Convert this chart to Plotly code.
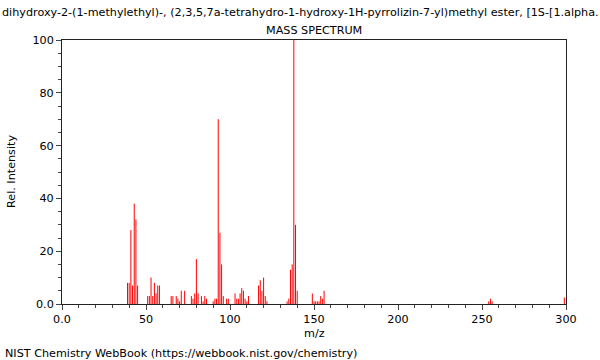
import plotly.graph_objects as go

mz = [39, 40, 41, 42, 43, 44, 45,
      51, 52, 53, 54, 55, 56, 57, 58,
      65, 66, 68, 69, 70, 71, 73,
      77, 78, 79, 80, 81, 83, 84, 85, 86,
      90, 91, 92, 93, 94, 95, 96, 98, 99,
      103, 104, 105, 106, 107, 108, 109, 110, 111,
      117, 118, 119, 120, 121, 122,
      134, 135, 136, 137, 138, 139, 140,
      149, 150, 151, 152, 153, 154, 155, 156,
      254, 255, 256,
      299]
intensity = [8, 8, 28, 7, 38, 32, 7,
             3, 3, 10, 3, 8, 4, 7, 7,
             3, 3, 3, 2, 1, 5, 5,
             3, 2, 4, 17, 4, 3, 1, 3, 2,
             1, 2, 2, 70, 27, 15, 3, 2, 2,
             4, 2, 2, 4, 6, 5, 2, 1, 3,
             7, 9, 5, 10, 3, 1,
             1, 2, 13, 15, 100, 30, 5,
             4, 1, 1, 1, 1, 3, 2, 5,
             1, 2, 1,
             2.5]

x_ticks = [0, 50, 100, 150, 200, 250, 300]
x_ticktext = ["0.0", "50", "100", "150", "200", "250", "300"]
y_ticks = [0, 20, 40, 60, 80, 100]
y_ticktext = ["0.0", "20", "40", "60", "80", "100"]

title_text = ("dihydroxy-2-(1-methylethyl)-, (2,3,5,7a-tetrahydro-1-hydroxy-1H-"
              "pyrrolizin-7-yl)methyl ester, [1S-[1.alpha.")

FONT = "DejaVu Sans"
FS = 11.2

# stick spectrum: one vertical segment per peak
sx, sy = [], []
for m, v in zip(mz, intensity):
    sx += [m, m, None]
    sy += [0, v, None]

fig = go.Figure()
fig.add_trace(go.Scatter(x=sx, y=sy, mode="lines",
                         line=dict(color="#ff0000", width=1),
                         hoverinfo="skip"))

fig.update_layout(
    width=600, height=360,
    margin=dict(l=62, r=34, t=40, b=56),
    paper_bgcolor="white", plot_bgcolor="white",
    showlegend=False,
    font=dict(family=FONT, size=FS, color="black"),
)
fig.update_xaxes(
    range=[0, 300], tickvals=x_ticks, ticktext=x_ticktext,
    ticks="outside", ticklen=5, tickcolor="#444", tickwidth=1,
    minor=dict(dtick=10, ticks="outside", ticklen=3, tickcolor="#444"),
    showline=True, linecolor="#222", linewidth=1, mirror=True,
    showgrid=False, zeroline=False, tickfont=dict(size=FS),
)
fig.update_yaxes(
    range=[0, 100], tickvals=y_ticks, ticktext=y_ticktext,
    ticks="outside", ticklen=5, tickcolor="#444", tickwidth=1,
    minor=dict(dtick=5, ticks="outside", ticklen=3, tickcolor="#444"),
    showline=True, linecolor="#222", linewidth=1, mirror=True,
    showgrid=False, zeroline=False, tickfont=dict(size=FS),
)

ann = [
    dict(text=title_text, x=(300 - 62) / 504, y=(304 - 13) / 264,
         xref="paper", yref="paper", showarrow=False,
         xanchor="center", yanchor="middle", font=dict(size=FS)),
    dict(text="MASS SPECTRUM", x=0.5, y=(304 - 30) / 264,
         xref="paper", yref="paper", showarrow=False,
         xanchor="center", yanchor="middle", font=dict(size=FS)),
    dict(text="m/z", x=0.5, y=(304 - 333) / 264,
         xref="paper", yref="paper", showarrow=False,
         xanchor="center", yanchor="middle", font=dict(size=FS)),
    dict(text="Rel. Intensity", x=(11 - 62) / 504, y=0.5, textangle=-90,
         xref="paper", yref="paper", showarrow=False,
         xanchor="center", yanchor="middle", font=dict(size=FS)),
    dict(text="NIST Chemistry WebBook (https://webbook.nist.gov/chemistry)",
         x=(3 - 62) / 504, y=(304 - 353) / 264,
         xref="paper", yref="paper", showarrow=False,
         xanchor="left", yanchor="middle", font=dict(size=FS)),
]
fig.update_layout(annotations=ann)

fig.write_html("out.html")
